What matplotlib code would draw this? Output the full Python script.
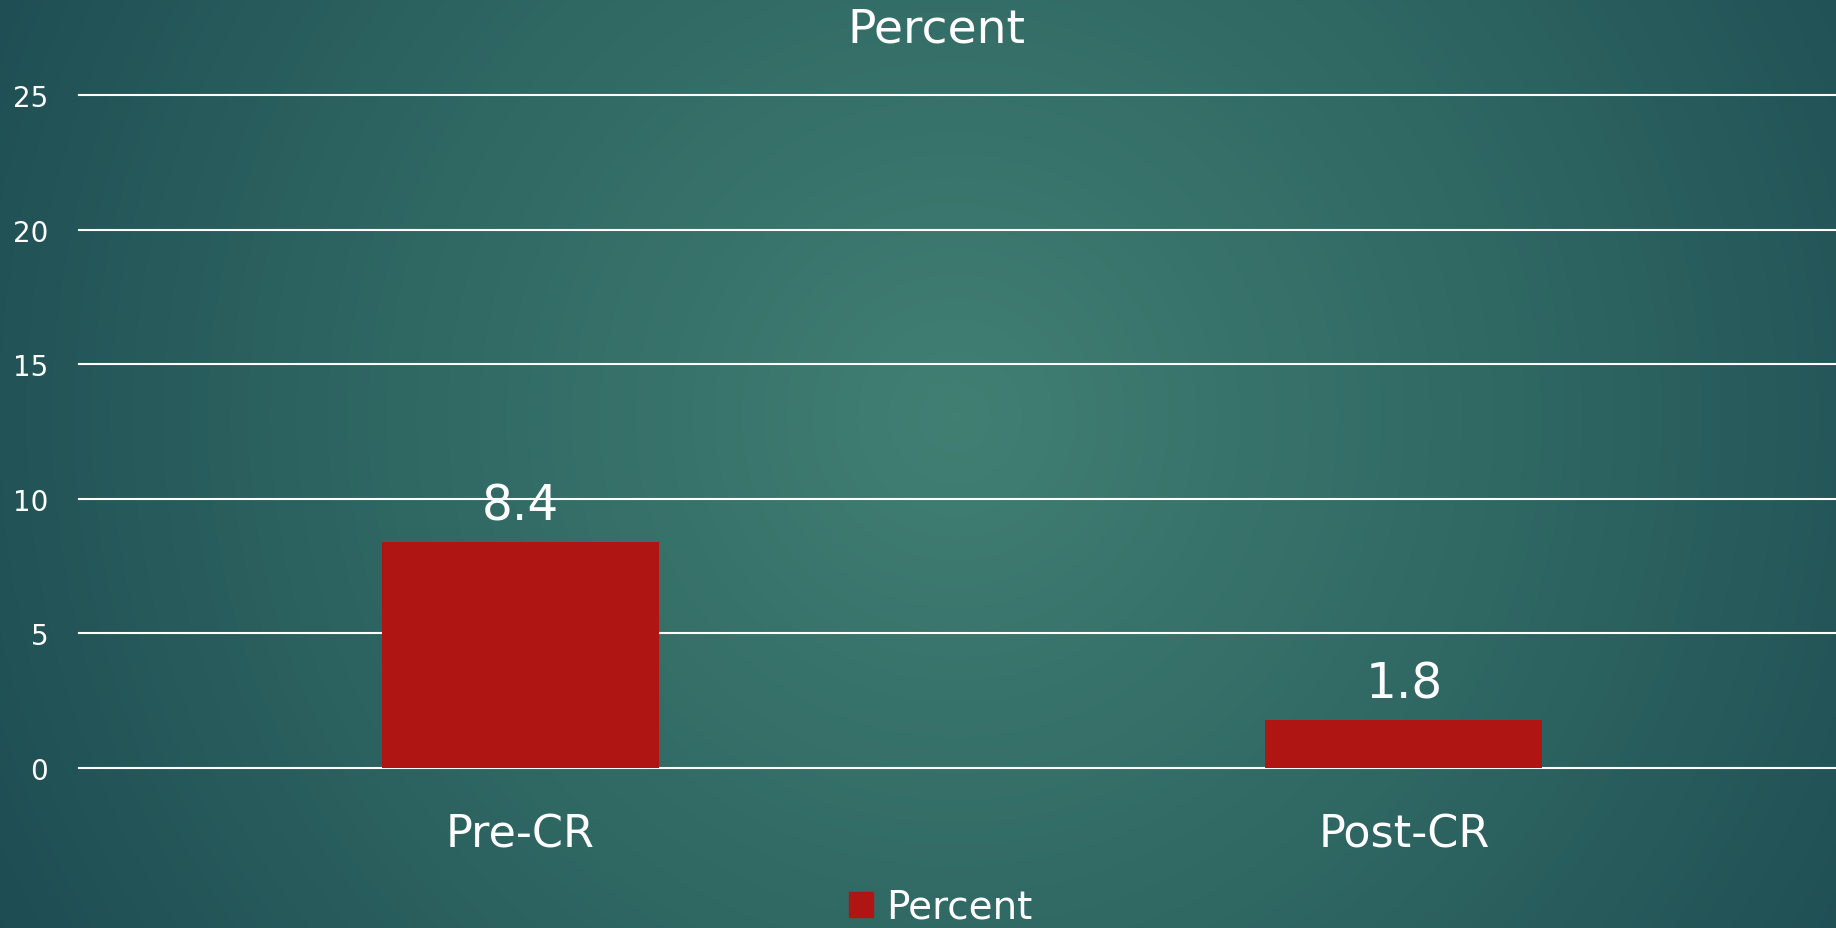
import numpy as np
import matplotlib.pyplot as plt
from matplotlib.colors import LinearSegmentedColormap
from matplotlib.patches import Patch

# -----------------------------
# Data
# -----------------------------
categories = ["Pre-CR", "Post-CR"]
values = [8.4, 1.8]
series_name = "Percent"
y_ticks = [0, 5, 10, 15, 20, 25]

bar_color = "#ae1513"
text_color = "white"
plt.rcParams["font.family"] = ["DejaVu Sans"]

W, H, dpi = 1836, 929, 100
fig = plt.figure(figsize=(W / dpi, H / dpi), dpi=dpi)

# -----------------------------
# Radial gradient background
# -----------------------------
bg = fig.add_axes([0, 0, 1, 1], zorder=-10)
yy, xx = np.mgrid[0:H, 0:W]
cx, cy = 0.52 * W, 0.45 * H
r = np.sqrt(((xx - cx) / (0.62 * W)) ** 2 + ((yy - cy) / (0.62 * W)) ** 2)
r = np.clip(r, 0, 1)
cmap = LinearSegmentedColormap.from_list("bg", ["#417f73", "#2f6763", "#1c4a51"])
bg.imshow(r, cmap=cmap, vmin=0, vmax=1, aspect="auto", interpolation="bilinear")
bg.axis("off")

# -----------------------------
# Chart
# -----------------------------
ax = fig.add_axes([78.7 / W, 1 - 769 / H, 1767 / W, (769 - 96) / H])
ax.patch.set_alpha(0)
x = np.arange(len(categories))
bars = ax.bar(x, values, width=0.3135, color=bar_color, zorder=3)

ax.set_xlim(-0.5, len(categories) - 0.5)
ax.set_ylim(0, 25)
ax.set_yticks(y_ticks)
ax.yaxis.grid(True, color="white", linewidth=1.5, zorder=0)
for gl in ax.get_ygridlines():
    gl.set_clip_on(False)
ax.set_axisbelow(True)
for s in ax.spines.values():
    s.set_visible(False)
ax.tick_params(axis="y", length=0, pad=22, labelsize=20, labelcolor=text_color)
ax.set_xticks(x)
ax.set_xticklabels(categories)
ax.tick_params(axis="x", length=0, pad=32, labelsize=32, labelcolor=text_color)

for b, v in zip(bars, values):
    ax.annotate(f"{v}", (b.get_x() + b.get_width() / 2, v), xytext=(0, 16),
                textcoords="offset points", ha="center", va="baseline",
                fontsize=35, color=text_color, zorder=4)

fig.text(936 / W, 1 - 30 / H, series_name, ha="center", va="center",
         fontsize=34, color=text_color)

fig.legend(handles=[Patch(color=bar_color, label=series_name)],
           loc="center", bbox_to_anchor=(941 / W, 1 - 908 / H), frameon=False,
           fontsize=28, labelcolor=text_color, handlelength=0.6, handleheight=0.6,
           handletextpad=0.35, borderpad=0)

fig.savefig("out.png", dpi=dpi)
